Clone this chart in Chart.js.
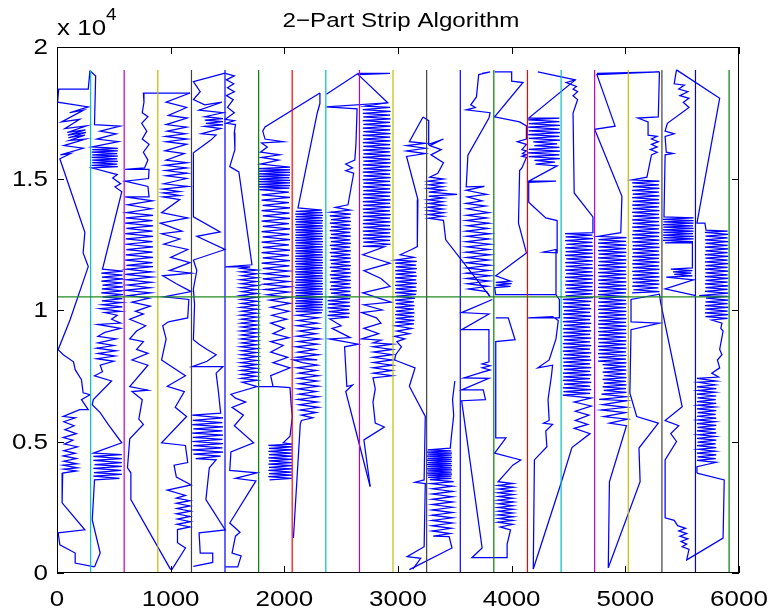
<!DOCTYPE html>
<html>
<head>
<meta charset="utf-8">
<script src="https://cdn.jsdelivr.net/npm/chart.js@4.4.1/dist/chart.umd.min.js"></script>
<style>
  html, body { margin: 0; padding: 0; background: #fff; }
  canvas { display: block; }
</style>
</head>
<body>
<canvas id="stripChart" width="770" height="614"></canvas>
<script>
// axis ticks
const xTicks = [0, 1000, 2000, 3000, 4000, 5000, 6000];
const yTicks = [0, 5000, 10000, 15000, 20000];
const yTickLabels = ["0", "0.5", "1", "1.5", "2"];

// strip boundaries, split height, colours of the boundary lines
const stripEdges = [0, 296, 591, 887, 1183, 1478, 1774, 2069, 2365, 2661, 2956,
                    3252, 3548, 3843, 4139, 4435, 4730, 5026, 5322, 5617, 5913];
const stripTop = 19130;
const splitY = 10500;
const edgeColors = ["#ff0000", "#00bfbf", "#bf00bf", "#bfbf00", "#404040", "#0000ff", "#008000"];

// tour, read strip by strip (x, y)
const strip00 = [[290,19100],[275,18400],[15,18400],[5,17900],[275,17720],[110,17500],[235,17600],[40,17150],[200,17250],[70,16900],[260,17000],[90,16750],[250,16850],[95,16650],[255,16750],[100,16550],[245,16650],[110,16450],[250,16500],[60,16250],[230,16150],[30,15900],[120,15950],[25,15750],
  [245,12950],[230,12170],[275,11650],[115,9630],[10,8490],[55,8300],[145,8030],[160,7730],[215,7350],[230,6850],[290,6780],[215,6590],[275,6210],[200,6210],[55,5950],[160,5900],[60,5750],[150,5600],[70,5450],[170,5300],[55,5150],[140,5050],[65,4900],[180,4800],[60,4650],[160,4550],[55,4450],[170,4350],[60,4250],[175,4150],[55,4100],[180,4000],[60,3950],[170,3880],[50,3800],[45,2670],[245,1640],[10,1530],[25,1070],[160,760],[160,380],[330,230]];

const strip01 = [[290,19100],[340,18900],[330,17050],[555,16990],[380,16800],[520,16700],[350,16500],[540,16400],[310,16200],[535,16150],[310,16100],[535,16050],[305,16000],[530,15950],[310,15900],[535,15850],[305,15800],[530,15750],[310,15700],[535,15650],[310,15600],[530,15550],[305,15500],[535,15450],[310,15400],[530,15150],[490,15020],[560,14800],[510,14680],[570,14500],
  [400,11550],[580,11480],[390,11400],[575,11330],[395,11250],[580,11180],[390,11100],[575,11030],[400,10950],[580,10880],[395,10800],[575,10730],[390,10650],[580,10580],[400,10500],[575,10430],[395,10350],[570,10280],[400,10200],[575,10120],[380,10050],[560,9950],[420,9900],[530,9800],[480,9650],[560,9500],[360,9450],[560,9300],[420,9150],[360,9000],[520,8900],[360,8750],[500,8650],[350,8550],[520,8450],[360,8350],[510,8250],[350,8150],[500,8050],[380,7900],[400,7650],[330,7500],[480,7300],[320,6590],[310,6400],[380,6100],[450,5650],[570,4950],
  [320,4560],[570,4500],[320,4430],[570,4350],[320,4280],[570,4200],[330,4120],[570,4050],[320,3980],[565,3900],[325,3820],[570,3750],[320,3680],[550,3600],[330,3540],[310,2020],[380,760],[330,230]];

const strip02 = [[1170,18250],[760,18250],[765,17900],[750,17500],[800,17350],[745,17100],[790,16800],[750,16500],[810,16300],[760,16000],[800,15700],[770,15400],[600,15350],[810,15350],[805,15000],[600,14900],[800,14700],[810,14300],[600,14300],[840,14150],[620,14000],[830,13850],[610,13700],[845,13600],[605,13500],[840,13400],[600,13300],[845,13200],[610,13100],[840,13000],[600,12900],[845,12800],[605,12700],[840,12600],[600,12500],[845,12400],[610,12300],[840,12200],[605,12100],[845,12000],[600,11900],[840,11800],[610,11700],[845,11650],[615,11550],[830,11450],[600,11350],[835,11250],[610,11150],[830,11050],[620,10950],[820,10850],[600,10750],[825,10650],[630,10550],[810,10450],[660,10300],[820,10150],[690,9950],[760,9850],[640,9650],[780,9400],[700,9200],[640,8900],[760,8800],[700,8500],[800,8350],[660,8100],[800,7900],[640,7090],[800,6950],[660,6900],[750,6590],[720,5850],[760,5650],[640,5100],[620,4000],[650,3810],[650,2790],[1000,130]];

const strip03 = [[1170,18250],[960,17900],[1140,17700],[980,17400],[1145,17300],[960,17050],[1140,16950],[970,16800],[1130,16700],[955,16600],[1145,16500],[960,16400],[1140,16300],[950,16050],[1120,15950],[960,15700],[1145,15600],[950,15500],[1140,15400],[955,15300],[1145,15200],[960,15100],[1140,15000],[940,14800],[1150,14700],[930,14600],[1080,14500],[935,14450],[1080,14350],[935,14300],[1080,14200],[920,13700],[1150,13500],[910,13300],[1100,13000],[920,12900],[1080,12700],[940,12500],[1150,12300],[1000,12000],[1170,11800],[990,11500],[1180,11400],[930,11300],[1050,11000],[1180,10700],[940,10500],[1160,10400],[1150,9700],[980,9550],[930,9400],[960,8900],[920,8100],[990,7900],[1130,7500],[970,7100],[1120,6900],[1040,6300],[1140,5950],[920,4950],[1130,4850],[1150,4200],[1030,4100],[1050,3650],[1180,3350],[970,3150],[1130,2950],[1050,2850],[1170,2750],[1050,2650],[1170,2550],[1055,2450],[1175,2350],[1050,2250],[1170,2150],[1060,2050],[1175,1950],[1055,1850],[1170,1750],[1060,1650],[1060,1150],[1130,950],[1010,130]];

const strip04 = [[1478,19010],[1200,18680],[1260,18300],[1200,18000],[1300,17800],[1450,17900],[1250,17600],[1460,17500],[1300,17350],[1460,17280],[1300,17220],[1460,17160],[1310,17100],[1460,17040],[1300,16980],[1440,16900],[1270,16700],[1400,16650],[1350,16450],[1200,15980],[1200,13540],[1435,12970],[1230,12800],[1478,12300],[1200,11900],[1230,11500],[1200,10800],[1210,10200],[1200,8870],[1250,8700],[1320,8500],[1400,8300],[1320,8050],[1190,7850],[1460,7850],[1400,7600],[1420,6900],[1440,6080],[1190,6000],[1460,5900],[1195,5800],[1455,5720],[1190,5640],[1460,5560],[1200,5480],[1455,5400],[1190,5320],[1460,5240],[1195,5160],[1455,5080],[1190,5000],[1460,4920],[1200,4840],[1455,4760],[1190,4680],[1460,4600],[1200,4520],[1440,4440],[1220,4350],[1400,4300],[1340,4000],[1310,2790],[1480,1640],[1250,1530],[1260,760],[1370,760],[1370,400],[1200,250]];

const strip05 = [[1480,19000],[1560,18900],[1490,18750],[1555,18600],[1500,18450],[1560,18300],[1490,18150],[1550,18000],[1500,17700],[1560,17500],[1480,17250],[1560,17200],[1490,17100],[1570,17050],[1560,16750],[1565,16100],[1520,15450],[1600,15250],[1715,11720],[1480,11640],[1700,11640],[1620,11580],[1760,11520],[1615,11450],[1755,11380],[1625,11300],[1760,11230],[1615,11150],[1755,11080],[1620,11000],[1760,10930],[1615,10850],[1755,10780],[1625,10700],[1760,10630],[1615,10550],[1755,10480],[1620,10400],[1760,10330],[1625,10250],[1755,10180],[1615,10100],[1760,10030],[1625,9950],[1755,9880],[1615,9800],[1760,9730],[1625,9650],[1755,9580],[1620,9500],[1760,9430],[1625,9350],[1755,9280],[1615,9200],[1760,9130],[1625,9050],[1755,8980],[1620,8900],[1760,8830],[1625,8750],[1755,8680],[1615,8600],[1760,8530],[1625,8450],[1755,8380],[1620,8300],[1760,8230],[1625,8150],[1755,8080],[1615,8000],[1760,7930],[1625,7850],[1755,7780],[1620,7700],[1760,7630],[1625,7550],[1750,7480],[1620,7400],[1760,7330],[1630,7250],[1760,7090],[1530,6800],[1570,6650],[1660,6500],[1540,6300],[1640,6000],[1560,5600],[1730,4950],[1530,4600],[1520,3900],[1760,3810],[1570,3600],[1750,3500],[1520,1900],[1610,1550],[1570,1400],[1540,760],[1620,650],[1590,230],[1480,230]];

const strip06 = [[2313,18250],[1830,16960],[1810,16800],[1830,16500],[1990,16400],[1800,16350],[1850,16200],[1790,16000],[1960,15900],[1800,15800],[1950,15700],[1790,15550],[2050,15430],[1770,15380],[2050,15330],[1770,15280],[2050,15230],[1775,15180],[2050,15130],[1770,15080],[2045,15030],[1775,14980],[2050,14930],[1770,14880],[2050,14830],[1775,14780],[2050,14730],[1770,14680],[2045,14630],[1780,14580],[2040,14480],[1800,14380],[2050,14280],[1800,14180],[2040,14080],[1810,13980],[2050,13880],[1800,13780],[2045,13680],[1810,13580],[2050,13480],[1800,13380],[2040,13280],[1810,13180],[2050,13080],[1800,12980],[2045,12880],[1810,12780],[2050,12680],[1800,12580],[2040,12480],[1810,12380],[2050,12280],[1800,12180],[2040,12080],[1810,11980],[2050,11880],[1800,11780],[2045,11680],[1810,11580],[2040,11480],[1820,11380],[2050,11280],[1810,11180],[2040,11080],[1820,10980],[2050,10880],[1830,10780],[2040,10680],[1850,10580],[2040,10480],[1870,10380],[2050,10250],[1880,10100],[2040,9950],[1890,9800],[2020,9650],[1880,9500],[2000,9300],[1900,9100],[2040,8950],[1880,8800],[1990,8650],[1880,8400],[2030,8200],[1900,8000],[2050,7800],[1880,7500],[1900,7100],[1760,7090],[1900,7100],[2050,7050],[2060,6400],[2070,5950],[2050,5200],[1990,4950],[2070,4900],[1860,4850],[2070,4800],[1865,4740],[2070,4680],[1860,4620],[2065,4560],[1865,4500],[2070,4440],[1860,4380],[2070,4320],[1865,4260],[2065,4200],[1860,4140],[2070,4080],[1865,4020],[2070,3960],[1860,3900],[2065,3840],[1865,3780],[2070,3720],[1860,3660],[2065,3600],[1870,3540]];

const strip07 = [[2313,18250],[2313,17850],[2290,17500],[2120,13880],[2330,13800],[2100,13750],[2335,13700],[2095,13650],[2340,13600],[2100,13550],[2335,13500],[2095,13450],[2340,13400],[2100,13350],[2335,13300],[2095,13250],[2340,13200],[2100,13150],[2335,13100],[2095,13050],[2340,13000],[2100,12950],[2335,12900],[2095,12850],[2340,12800],[2100,12750],[2335,12700],[2095,12650],[2340,12600],[2100,12550],[2335,12500],[2095,12450],[2340,12400],[2100,12350],[2335,12300],[2095,12250],[2340,12200],[2100,12150],[2335,12100],[2095,12050],[2340,12000],[2100,11950],[2335,11900],[2095,11850],[2340,11800],[2100,11750],[2335,11700],[2095,11650],[2340,11600],[2100,11550],[2335,11500],[2095,11450],[2340,11400],[2100,11350],[2335,11300],[2095,11250],[2340,11200],[2100,11150],[2335,11100],[2095,11050],[2340,11000],[2100,10950],[2335,10900],[2095,10850],[2340,10800],[2100,10750],[2335,10700],[2095,10650],[2340,10600],[2100,10550],[2335,10500],[2095,10450],[2340,10400],[2100,10350],[2335,10300],[2095,10250],[2340,10200],[2100,10150],[2335,10100],[2095,10050],[2340,10000],[2100,9950],[2330,9900],[2110,9800],[2300,9700],[2120,9600],[2290,9500],[2110,9400],[2300,9300],[2130,9200],[2280,9100],[2110,9000],[2310,8900],[2120,8800],[2290,8700],[2100,8600],[2270,8500],[2120,8400],[2300,8300],[2110,8200],[2290,8100],[2080,8100],[2160,8000],[2290,7900],[2110,7800],[2280,7700],[2130,7600],[2300,7500],[2120,7400],[2290,7300],[2130,7200],[2300,7100],[2120,7000],[2280,6900],[2130,6800],[2300,6700],[2120,6600],[2290,6500],[2130,6400],[2300,6300],[2140,6200],[2280,6100],[2150,6000],[2250,5900],[2150,5800],[2140,5650],[2080,1330]];

const strip08 = [[2370,18200],[2650,19000],[2930,19000],[2650,18950],[2910,17880],[2370,17720],[2640,17650],[2630,16300],[2620,15700],[2540,15550],[2600,15400],[2540,15300],[2610,15200],[2560,14000],[2450,13900],[2580,13800],[2410,13720],[2585,13650],[2400,13580],[2580,13510],[2410,13440],[2585,13370],[2400,13300],[2580,13230],[2410,13160],[2585,13090],[2400,13020],[2580,12950],[2410,12880],[2585,12810],[2400,12740],[2580,12670],[2410,12600],[2585,12530],[2400,12460],[2580,12390],[2410,12320],[2585,12250],[2400,12180],[2580,12110],[2410,12040],[2585,11970],[2400,11900],[2580,11830],[2410,11760],[2585,11690],[2400,11620],[2580,11550],[2410,11480],[2585,11410],[2400,11340],[2580,11270],[2410,11200],[2585,11130],[2400,11060],[2580,10990],[2410,10920],[2585,10850],[2400,10780],[2580,10710],[2410,10640],[2585,10570],[2390,10500],[2580,10430],[2380,10360],[2575,10290],[2385,10220],[2580,10150],[2380,10080],[2570,10010],[2390,9940],[2575,9870],[2380,9800],[2570,9730],[2400,9660],[2500,9400],[2420,9300],[2580,8950],[2400,8900],[2650,8700],[2530,8600],[2550,7090],[2600,7150],[2540,6900],[2755,3290]];

const strip09 = [[2910,17880],[2710,17750],[2930,17700],[2690,17620],[2935,17550],[2690,17480],[2930,17410],[2695,17340],[2935,17270],[2690,17200],[2930,17130],[2695,17060],[2935,16990],[2690,16920],[2930,16850],[2695,16780],[2935,16710],[2690,16640],[2930,16570],[2695,16500],[2935,16430],[2690,16360],[2930,16290],[2695,16220],[2935,16150],[2690,16080],[2930,16010],[2695,15940],[2935,15870],[2690,15800],[2930,15730],[2695,15660],[2935,15590],[2690,15520],[2930,15450],[2695,15380],[2935,15310],[2690,15240],[2930,15170],[2695,15100],[2935,15030],[2690,14960],[2930,14890],[2695,14820],[2935,14750],[2690,14680],[2930,14610],[2695,14540],[2935,14470],[2690,14400],[2930,14330],[2695,14260],[2935,14190],[2690,14120],[2930,14050],[2695,13980],[2935,13910],[2690,13840],[2930,13770],[2695,13700],[2935,13630],[2690,13560],[2930,13490],[2695,13420],[2935,13350],[2690,13280],[2930,13210],[2695,13140],[2935,13070],[2690,13000],[2930,12930],[2695,12860],[2935,12790],[2690,12720],[2930,12650],[2695,12580],[2935,12500],[2690,12420],[2880,12400],[2690,12100],[2930,11780],[2700,11500],[2850,11200],[2930,10900],[2690,10650],[2940,10300],[2700,10200],[2860,10000],[2680,9900],[2810,9700],[2850,9500],[2700,9300],[2830,9100],[2680,8900],[2850,8850],[2780,8750],[2950,8700],[2780,8600],[2950,8500],[2785,8400],[2950,8300],[2780,8200],[2950,8100],[2785,8000],[2950,7900],[2780,7800],[2945,7700],[2785,7600],[2950,7500],[2780,7420],[2800,7000],[2780,6500],[2800,5700],[2880,5550],[2700,5060],[2755,3290]];

const strip10 = [[3220,17340],[3100,16400],[3240,16340],[3075,16250],[3240,16150],[3075,16050],[3240,15950],[3075,15840],[3175,14200],[3170,12410],[3120,12300],[3020,12100],[3140,12000],[2980,11900],[3165,11850],[2975,11780],[3160,11710],[2980,11640],[3165,11570],[2975,11500],[3160,11430],[2980,11360],[3165,11290],[2975,11220],[3160,11150],[2980,11080],[3165,11010],[2975,10940],[3160,10870],[2980,10800],[3165,10730],[2975,10660],[3160,10590],[2980,10520],[3150,10450],[2975,10380],[3140,10310],[2980,10240],[3145,10170],[2975,10100],[3140,10030],[2980,9960],[3145,9890],[2975,9820],[3140,9750],[2980,9680],[3145,9610],[2975,9540],[3140,9470],[2980,9400],[3120,9300],[2990,9200],[3100,9100],[2970,9000],[3060,8900],[2990,8800],[3030,8600],[2980,8300],[2970,8100],[3150,7800],[3100,7100],[3240,5950],[3230,3540],[3150,3450],[3240,3400],[3230,1000],[3080,620],[3200,560],[3130,150]];

const strip11 = [[3220,17340],[3270,17200],[3270,16300],[3400,16500],[3280,16250],[3380,16100],[3290,15900],[3400,15600],[3350,15200],[3280,15050],[3400,14980],[3265,14900],[3400,14830],[3270,14760],[3395,14690],[3265,14620],[3400,14550],[3270,14480],[3520,14400],[3270,14330],[3400,14260],[3265,14190],[3395,14120],[3270,14050],[3400,13980],[3265,13910],[3395,13840],[3270,13770],[3400,13700],[3265,13630],[3395,13560],[3270,13490],[3400,13410],[3420,12670],[3810,10510]];

const strip11b = [[3500,7300],[3480,6600],[3490,6000],[3470,5200],[3460,4750],[3260,4680],[3470,4640],[3255,4600],[3475,4560],[3260,4520],[3470,4480],[3255,4440],[3475,4400],[3260,4360],[3470,4320],[3255,4280],[3475,4240],[3260,4200],[3470,4160],[3255,4120],[3475,4080],[3260,4040],[3470,4000],[3255,3960],[3475,3920],[3260,3880],[3470,3840],[3255,3800],[3475,3760],[3260,3720],[3470,3680],[3265,3640],[3470,3600],[3280,3550],[3490,3470],[3290,3400],[3480,3300],[3300,3200],[3480,3100],[3300,3000],[3480,2900],[3300,2800],[3480,2700],[3300,2600],[3480,2500],[3300,2400],[3480,2300],[3300,2200],[3480,2100],[3300,2000],[3480,1900],[3300,1800],[3470,1700],[3300,1600],[3460,1500],[3310,1400],[3450,1380],[3475,950],[3100,130]];

const strip12 = [[3740,19000],[3810,19050],[3710,18950],[3690,18100],[3640,17800],[3680,17700],[3600,17610],[3810,17500],[3800,17300],[3615,15890],[3600,14680],[3760,14700],[3600,14550],[3780,14400],[3610,14300],[3740,14150],[3600,14050],[3770,13950],[3610,13850],[3800,13700],[3605,13600],[3780,13500],[3600,13400],[3800,13300],[3610,13200],[3790,13100],[3600,13000],[3810,12900],[3605,12800],[3800,12700],[3600,12600],[3810,12500],[3605,12400],[3800,12300],[3600,12200],[3810,12100],[3605,12000],[3800,11900],[3600,11800],[3810,11700],[3605,11600],[3800,11500],[3600,11400],[3810,11300],[3605,11200],[3800,11100],[3610,11000],[3790,10900],[3620,10800],[3780,10700],[3810,10510]];

const strip12b = [[3830,10400],[3560,9900],[3800,9850],[3560,9250],[3800,9250],[3800,8030],[3740,7950],[3810,7880],[3740,7800],[3810,7720],[3750,7650],[3580,7420],[3800,7400],[3560,6960],[3750,6960],[3770,6590],[3560,6550],[3740,950],[3650,580],[3960,580],[3960,1100]];

const strip13 = [[3850,19050],[4000,19050],[4000,18700],[4100,18650],[3850,17340],[4070,17150],[4130,17000],[4130,16500],[4050,16400],[4130,16300],[4090,16100],[4130,16050],[4095,15950],[4130,15900],[4090,15850],[4130,15800],[4090,15400],[4070,15300],[4060,13300],[4130,12170],[3860,11300],[3990,11100],[3860,11050],[4000,11000],[3860,10950],[3990,10900],[3850,10850],[3860,10580],[4390,10580]];

const strip13b = [[3860,9700],[3970,9700],[4030,8870],[3860,8800],[3860,5140],[3950,5140],[3850,4560],[4080,4300],[4010,4100],[3880,3470],[4010,3400],[3880,3330],[4015,3260],[3885,3190],[4010,3120],[3880,3050],[4015,2980],[3885,2910],[4010,2840],[3880,2770],[4015,2700],[3885,2630],[4010,2560],[3880,2490],[4015,2420],[3885,2350],[4010,2280],[3880,2210],[4015,2140],[3885,2070],[4010,2000],[3880,1930],[4010,1850],[3900,1750],[3990,1640],[3960,1100]];

const strip14 = [[4230,19050],[4560,18750],[4150,17300],[4420,17300],[4145,17230],[4420,17160],[4150,17090],[4425,17020],[4145,16950],[4420,16880],[4150,16810],[4425,16740],[4145,16670],[4420,16600],[4150,16530],[4425,16460],[4190,16390],[4400,16320],[4200,16250],[4420,16180],[4150,16110],[4425,16040],[4145,15970],[4420,15900],[4150,15830],[4425,15760],[4200,15690],[4380,15620],[4210,15550],[4400,15480],[4150,14900],[4390,14900],[4150,14850],[4150,14100],[4200,13900],[4300,13500],[4400,13400],[4400,12170],[4280,12200],[4390,12300],[4390,10580]];

const strip14b = [[4390,10580],[4420,10390],[4420,9700],[4145,9700],[4360,9750],[4410,9600],[4390,8900],[4330,8100],[4230,7800],[4360,7900],[4350,7500],[4320,6600],[4330,5800],[4280,5700],[4360,5650],[4300,5400],[4310,4800],[4200,4300],[4190,150]];

const strip15 = [[4560,18750],[4480,18650],[4570,18500],[4540,18400],[4580,18300],[4540,18150],[4580,18000],[4540,17490],[4550,14450],[4715,13540],[4715,12940],[4470,12900],[4710,12850],[4475,12780],[4715,12710],[4470,12640],[4710,12570],[4480,12500],[4715,12430],[4470,12360],[4710,12290],[4475,12220],[4715,12150],[4470,12080],[4710,12010],[4480,11940],[4715,11870],[4470,11800],[4710,11730],[4475,11660],[4715,11590],[4470,11520],[4710,11450],[4480,11380],[4715,11310],[4470,11240],[4710,11170],[4475,11100],[4715,11030],[4470,10960],[4710,10890],[4480,10820],[4715,10750],[4470,10680],[4710,10610],[4475,10540],[4715,10470],[4450,10400],[4700,10330],[4455,10260],[4690,10190],[4450,10120],[4700,10050],[4460,9980],[4690,9910],[4450,9840],[4700,9770],[4455,9700],[4690,9630],[4450,9560],[4700,9490],[4460,9420],[4690,9350],[4450,9280],[4700,9210],[4455,9140],[4690,9070],[4450,9000],[4700,8930],[4460,8860],[4690,8790],[4450,8720],[4700,8650],[4455,8580],[4690,8510],[4450,8440],[4700,8370],[4460,8300],[4690,8230],[4450,8160],[4700,8090],[4455,8020],[4690,7950],[4450,7880],[4700,7810],[4460,7740],[4690,7670],[4450,7600],[4700,7530],[4455,7460],[4690,7390],[4450,7320],[4700,7250],[4460,7180],[4690,7110],[4450,7040],[4700,6970],[4455,6900],[4690,6830],[4450,6760],[4700,6650],[4550,6500],[4700,6350],[4560,6150],[4680,6000],[4560,5800],[4670,5650],[4550,5500],[4690,5300],[4530,4770],[4425,3290],[4190,150]];

const strip16 = [[4750,19000],[5300,19050],[4750,18950],[4910,16990],[4730,16870],[4970,14320],[4960,12940],[4760,12800],[5010,12750],[4765,12680],[5005,12610],[4760,12540],[5010,12470],[4765,12400],[5005,12330],[4760,12260],[5010,12190],[4765,12120],[5005,12050],[4760,11980],[5010,11910],[4765,11840],[5005,11770],[4760,11700],[5010,11630],[4765,11560],[5005,11490],[4760,11420],[5010,11350],[4765,11280],[5005,11210],[4760,11140],[5010,11070],[4765,11000],[5005,10930],[4760,10860],[5010,10790],[4765,10720],[5005,10650],[4760,10580],[5010,10510],[4765,10440],[5005,10370],[4760,10300],[5010,10230],[4765,10160],[5005,10090],[4760,10020],[5010,9950],[4765,9880],[5005,9810],[4760,9740],[5010,9670],[4765,9600],[5005,9530],[4760,9460],[5010,9390],[4765,9320],[5005,9250],[4760,9180],[5010,9110],[4765,9040],[5005,8970],[4760,8900],[5010,8830],[4765,8760],[5005,8690],[4760,8620],[5010,8550],[4765,8480],[5005,8410],[4760,8340],[5010,8270],[4765,8200],[5005,8130],[4760,8060],[5010,7990],[4800,7920],[5005,7850],[4810,7780],[5010,7710],[4800,7640],[5005,7570],[4810,7500],[5010,7430],[4800,7360],[5005,7290],[4810,7220],[5010,7150],[4800,7080],[5005,7010],[4810,6940],[5010,6870],[4790,6800],[5005,6700],[4770,6600],[5010,6550],[4800,6400],[5010,6300],[4790,6200],[5000,6100],[4810,5950],[5020,5850],[4860,5700],[5010,5600],[4860,3470],[4850,200]];

const strip17 = [[5300,19050],[5290,17340],[5110,17300],[5200,17150],[5200,16650],[5280,16600],[5230,16500],[5290,16400],[5230,16300],[5280,16200],[5220,16100],[5280,16000],[5230,15900],[5190,15050],[5060,14950],[5300,14900],[5060,14830],[5295,14760],[5065,14690],[5300,14620],[5060,14550],[5295,14480],[5065,14410],[5300,14340],[5060,14270],[5295,14200],[5065,14130],[5300,14060],[5060,13990],[5295,13920],[5065,13850],[5300,13780],[5060,13710],[5295,13640],[5065,13570],[5300,13500],[5060,13430],[5295,13360],[5065,13290],[5300,13220],[5060,13150],[5295,13080],[5065,13010],[5300,12940],[5060,12870],[5295,12800],[5065,12730],[5300,12660],[5060,12590],[5295,12520],[5065,12450],[5300,12380],[5060,12310],[5295,12240],[5065,12170],[5300,12100],[5060,12030],[5295,11960],[5065,11890],[5300,11820],[5060,11750],[5295,11680],[5065,11610],[5300,11540],[5060,11470],[5295,11400],[5065,11330],[5300,11260],[5060,11190],[5295,11120],[5065,11050],[5300,10980],[5060,10910],[5290,10840],[5070,10770],[5300,10700],[5060,10650]];

const strip17b = [[4850,200],[5130,3470],[5120,4750],[5290,5700],[5100,5950],[5040,6840],[5050,9250],[5300,9500],[5050,9550],[5050,10400],[5300,10600],[5310,10300],[5500,6320],[5350,5800],[5470,5600],[5400,5300],[5450,5000],[5350,4300],[5350,2100],[5430,2000],[5460,1800],[5530,1700],[5470,1600],[5540,1500],[5480,1400],[5550,1300],[5490,1200],[5540,1100],[5500,1000],[5560,900],[5540,500],[5860,1330],[5870,3540],[5630,3800]];

const strip18 = [[5450,19130],[5430,18600],[5520,18550],[5470,18400],[5550,18300],[5480,18150],[5560,18050],[5510,17900],[5560,17700],[5370,17100],[5350,16800],[5430,16700],[5350,16600],[5360,16000],[5420,15950],[5350,15900],[5340,13540],[5600,13500],[5330,13450],[5600,13400],[5335,13350],[5600,13300],[5330,13250],[5595,13200],[5335,13150],[5600,13100],[5330,13050],[5600,13000],[5335,12950],[5595,12900],[5330,12850],[5600,12800],[5335,12750],[5600,12700],[5330,12650],[5595,12600],[5350,12550],[5590,12550],[5590,11600],[5400,11550],[5590,11500],[5420,11450],[5580,11400],[5430,11350],[5590,11300],[5360,11250],[5600,11150],[5350,10800],[5620,10550]];

const strip19 = [[5450,19130],[5830,18050],[5630,13300],[5700,13300],[5710,13040],[5900,13000],[5700,12950],[5905,12880],[5705,12810],[5900,12740],[5700,12670],[5905,12600],[5705,12530],[5900,12460],[5700,12390],[5905,12320],[5705,12250],[5900,12180],[5700,12110],[5905,12040],[5705,11970],[5900,11900],[5700,11830],[5905,11760],[5705,11690],[5900,11620],[5700,11550],[5905,11480],[5705,11410],[5900,11340],[5700,11270],[5905,11200],[5705,11130],[5900,11060],[5700,10990],[5905,10920],[5705,10850],[5900,10780],[5700,10710],[5905,10640],[5650,10550],[5900,10520],[5710,10450],[5905,10380],[5705,10310],[5900,10240],[5700,10170],[5905,10100],[5705,10030],[5900,9960],[5700,9890],[5905,9820],[5705,9750],[5900,9680],[5760,9620],[5850,9500],[5840,9300],[5860,9200],[5830,8500],[5850,8300],[5810,8100],[5830,7800],[5760,7600],[5820,7450],[5630,7400],[5800,7300],[5640,7250],[5790,7150],[5630,7080],[5800,7010],[5640,6940],[5790,6870],[5630,6800],[5800,6730],[5635,6660],[5795,6590],[5630,6520],[5800,6450],[5640,6380],[5790,6310],[5630,6240],[5800,6170],[5635,6100],[5795,6030],[5630,5960],[5800,5890],[5640,5820],[5790,5750],[5630,5680],[5800,5610],[5635,5540],[5795,5470],[5630,5400],[5800,5330],[5640,5260],[5790,5190],[5630,5120],[5800,5050],[5635,4980],[5795,4910],[5630,4840],[5800,4770],[5640,4700],[5790,4630],[5630,4560],[5800,4490],[5635,4420],[5795,4350],[5630,4280],[5800,4210],[5630,4040],[5630,3800]];

const tourPieces = [strip00, strip01, strip02, strip03, strip04, strip05, strip06, strip07, strip08, strip09,
                    strip10, strip11, strip11b, strip12, strip12b, strip13, strip13b, strip14, strip14b,
                    strip15, strip16, strip17, strip17b, strip18, strip19];

const FONT = '"Liberation Sans", Arial, Helvetica, sans-serif';

// MATLAB export text is a little wider than Arial, so stretch it horizontally
function wideText(ctx, str, x, y, size, align, baseline, stretch) {
  ctx.save();
  ctx.font = size + "px " + FONT;
  ctx.textAlign = align;
  ctx.textBaseline = baseline;
  ctx.translate(x, y);
  ctx.scale(stretch, 1);
  ctx.fillText(str, 0, 0);
  ctx.restore();
}

// box, inward ticks and all the text
const axesBox = {
  id: "axesBox",
  afterDraw(chart) {
    const { ctx, chartArea: a, scales: { x, y } } = chart;
    ctx.save();
    ctx.strokeStyle = "#000";
    ctx.lineWidth = 1;
    ctx.strokeRect(a.left + 0.5, a.top + 0.5, a.right - a.left - 1, a.bottom - a.top - 1);
    ctx.beginPath();
    xTicks.forEach(v => {
      const px = Math.round(x.getPixelForValue(v)) + 0.5;
      ctx.moveTo(px, a.bottom); ctx.lineTo(px, a.bottom - 7);
      ctx.moveTo(px, a.top); ctx.lineTo(px, a.top + 7);
    });
    yTicks.forEach(v => {
      const py = Math.round(y.getPixelForValue(v)) + 0.5;
      ctx.moveTo(a.left, py); ctx.lineTo(a.left + 7, py);
      ctx.moveTo(a.right, py); ctx.lineTo(a.right - 7, py);
    });
    ctx.stroke();

    ctx.fillStyle = "#000";
    xTicks.forEach(v => wideText(ctx, String(v), x.getPixelForValue(v), a.bottom + 33, 22, "center", "alphabetic", 1.18));
    yTicks.forEach((v, i) => wideText(ctx, yTickLabels[i], a.left - 9, y.getPixelForValue(v) + 1, 22, "right", "middle", 1.18));
    wideText(ctx, "x 10", a.left, a.top - 12, 22, "left", "alphabetic", 1.18);
    wideText(ctx, "4", a.left + 49, a.top - 27, 16, "left", "alphabetic", 1.18);
    wideText(ctx, "2\u2212Part Strip Algorithm", (a.left + a.right) / 2 + 3, a.top - 20, 21, "center", "alphabetic", 1.15);
    ctx.restore();
  }
};

const datasets = [];
tourPieces.forEach(piece => datasets.push({
  data: piece, showLine: true, borderColor: "#0000ff", borderWidth: 1.25,
  pointRadius: 0, fill: false, order: 3
}));
stripEdges.forEach((xv, i) => datasets.push({
  data: [[xv, 0], [xv, stripTop]], showLine: true, borderColor: edgeColors[i % edgeColors.length],
  borderWidth: 1.2, pointRadius: 0, fill: false, order: 1
}));
datasets.push({
  data: [[0, splitY], [stripEdges[stripEdges.length - 1], splitY]], showLine: true,
  borderColor: "#1f8a1f", borderWidth: 1.4, pointRadius: 0, fill: false, order: 0
});

new Chart(document.getElementById("stripChart"), {
  type: "scatter",
  data: { datasets },
  options: {
    responsive: false,
    animation: false,
    layout: { padding: { top: 47, right: 31, bottom: 0, left: 0 } },
    plugins: { legend: { display: false }, tooltip: { enabled: false } },
    elements: { line: { tension: 0 } },
    scales: {
      x: {
        type: "linear", min: 0, max: 6000,
        ticks: { display: false, stepSize: 1000 },
        grid: { display: false, drawTicks: false },
        border: { display: false },
        afterFit(s) { s.height = 41; }
      },
      y: {
        type: "linear", min: 0, max: 20000,
        ticks: { display: false, stepSize: 5000 },
        grid: { display: false, drawTicks: false },
        border: { display: false },
        afterFit(s) { s.width = 57; }
      }
    }
  },
  plugins: [axesBox]
});
</script>
</body>
</html>
